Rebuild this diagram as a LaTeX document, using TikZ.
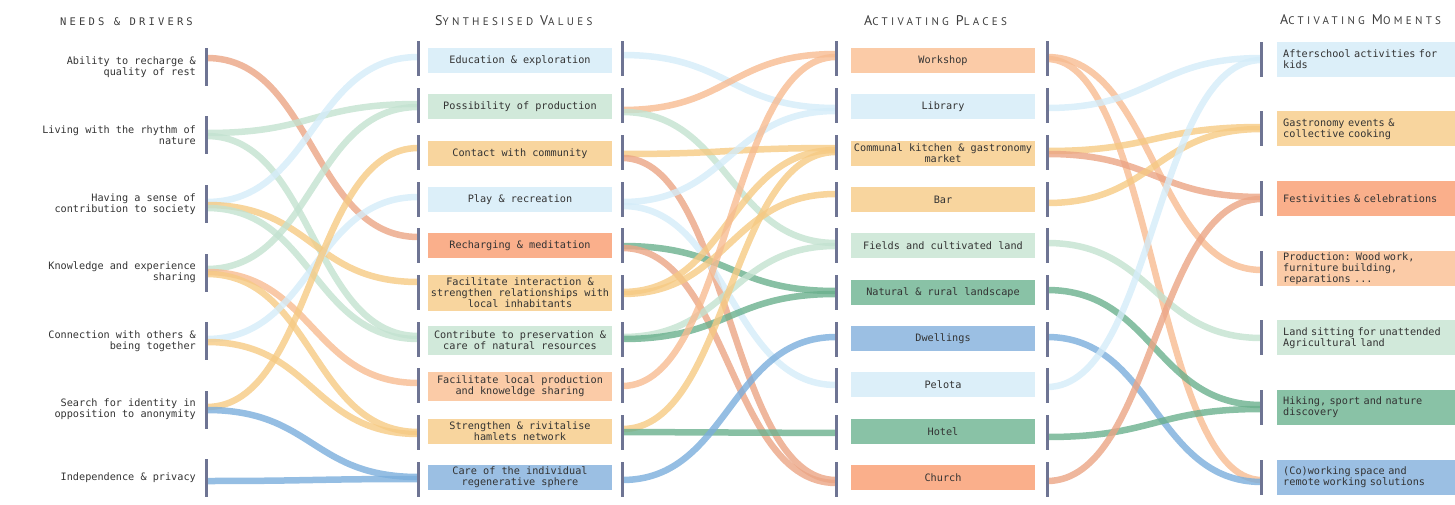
\documentclass[tikz,border=0pt]{standalone}
\usepackage{fontspec}
\newfontfamily\bodyf{DejaVu Sans Mono}
\newfontfamily\hdmono[LetterSpace=30]{DejaVu Sans Mono}
\newfontfamily\hdsans[LetterSpace=30]{PT Sans}
\newcommand\hdBig{\hdsans\fontsize{14}{14}\selectfont}
\newcommand\hdSml{\hdsans\fontsize{11}{14}\selectfont}
\usetikzlibrary{calc}
\pgfdeclarelayer{background}
\pgfsetlayers{background,main}
\definecolor{barc}{HTML}{6E7493}
\definecolor{txt}{HTML}{333333}
\definecolor{hdc}{HTML}{3C3C3C}
% box colours
\definecolor{fLB}{HTML}{DCEFF9}
\definecolor{fLG}{HTML}{D1E9DA}
\definecolor{fOG}{HTML}{F8D59E}
\definecolor{fSA}{HTML}{FAAF8B}
\definecolor{fPE}{HTML}{FBCBA7}
\definecolor{fGR}{HTML}{89C2A6}
\definecolor{fBL}{HTML}{9BBFE3}
% link colours
\definecolor{kLB}{HTML}{D4ECF9}
\definecolor{kLG}{HTML}{C3E2D0}
\definecolor{kOG}{HTML}{F6CA83}
\definecolor{kSA}{HTML}{EBA585}
\definecolor{kPE}{HTML}{F7BB91}
\definecolor{kGR}{HTML}{6AB08D}
\definecolor{kBL}{HTML}{7BAEDC}
\newcommand\lk[5]{\draw[lnk,#1] (#2.center |- 0,#3) .. controls +(106.5,0) and +(-106.5,0) .. (#4.center |- 0,#5);}
\begin{document}
\begin{tikzpicture}[x=1pt,y=-1pt,
  barn/.style={fill=barc, inner sep=0pt, minimum width=3pt, minimum height=#1},
  lbl/.style={font=\bodyf\fontsize{10.2}{11}\selectfont, text=txt, align=right, inner sep=0pt, anchor=east},
  vbox/.style={font=\bodyf\fontsize{10.2}{11}\selectfont, text=txt, align=center, inner sep=0pt, minimum width=184pt, minimum height=#1},
  mbox/.style={font=\bodyf\fontsize{10.2}{11}\selectfont, text=txt, align=left, inner xsep=6pt, inner ysep=0pt, text width=166pt, minimum height=35pt},
  hdr/.style={text=hdc, inner sep=0pt, anchor=base west},
  lnk/.style={line width=6.5pt, draw opacity=0.8},
  lb/.style={draw=kLB}, lg/.style={draw=kLG}, og/.style={draw=kOG},
  sa/.style={draw=kSA}, pe/.style={draw=kPE}, gr/.style={draw=kGR}, bl/.style={draw=kBL}
]
\useasboundingbox (0,0) rectangle (1455,505);

% headers
\node[hdr] (h1) at (60,25.3) {\hdmono\fontsize{10.5}{12}\selectfont NEEDS \& DRIVERS};
\node[hdr] (h2) at (435,25.5) {{\hdBig S}{\hdSml YNTHESISED}\hspace{7pt}{\hdBig V}{\hdSml ALUES}};
\node[hdr] (h3) at (864,26) {{\hdBig A}{\hdSml CTIVATING}\hspace{7pt}{\hdBig P}{\hdSml LACES}};
\node[hdr] (h4) at (1280,25) {{\hdBig A}{\hdSml CTIVATING}\hspace{7pt}{\hdBig M}{\hdSml OMENTS}};

% bars
\foreach \i in {1,...,7} {
  \pgfmathsetmacro\yy{67+68.5*(\i-1)}
  \node[barn=38pt] (a\i) at (206.7,\yy) {};
  \pgfmathsetmacro\zz{59.2+69.67*(\i-1)}
  \node[barn=35pt] (d\i) at (1261.7,\zz) {};
}
\foreach \i in {1,...,10} {
  \pgfmathsetmacro\yy{59+46.7*(\i-1)}
  \node[barn=35pt] (bl\i) at (418.3,\yy) {};
  \node[barn=35pt] (br\i) at (622.3,\yy) {};
  \node[barn=35pt] (cl\i) at (836,\yy) {};
  \node[barn=35pt] (cr\i) at (1047,\yy) {};
}

% needs & drivers labels
\node[lbl] (t1) at (196,67) {Ability to recharge \&\\quality of rest};
\node[lbl] (t2) at (196,135.5) {Living with the rhythm of\\nature};
\node[lbl] (t3) at (196,204) {Having a sense of\\contribution to society};
\node[lbl] (t4) at (196,272.5) {Knowledge and experience\\sharing};
\node[lbl] (t5) at (196,341) {Connection with others \&\\being together};
\node[lbl] (t6) at (196,409.5) {Search for identity in\\opposition to anonymity};
\node[lbl] (t7) at (196,478) {Independence \& privacy};

% synthesised values
\node[vbox=25pt, fill=fLB] (v1) at (520,60.5) {Education \& exploration};
\node[vbox=25pt, fill=fLG] (v2) at (520,106.8) {Possibility of production};
\node[vbox=25pt, fill=fOG] (v3) at (520,153.2) {Contact with community};
\node[vbox=25pt, fill=fLB] (v4) at (520,199.5) {Play \& recreation};
\node[vbox=25pt, fill=fSA] (v5) at (520,245.8) {Recharging \& meditation};
\node[vbox=36pt, fill=fOG] (v6) at (520,293) {Facilitate interaction \&\\strengthen relationships with\\local inhabitants};
\node[vbox=29pt, fill=fLG] (v7) at (520,340.3) {Contribute to preservation \&\\care of natural resources};
\node[vbox=29pt, fill=fPE] (v8) at (520,386.3) {Facilitate local production\\and knoweldge sharing};
\node[vbox=25pt, fill=fOG] (v9) at (520,431.2) {Strengthen \& rivitalise\\hamlets network};
\node[vbox=25pt, fill=fBL] (v10) at (520,477.5) {Care of the individual\\regenerative sphere};

% activating places
\node[vbox=25pt, fill=fPE] (p1) at (943,60.5) {Workshop};
\node[vbox=25pt, fill=fLB] (p2) at (943,106.8) {Library};
\node[vbox=25pt, fill=fOG] (p3) at (943,153.2) {Communal kitchen \& gastronomy\\market};
\node[vbox=25pt, fill=fOG] (p4) at (943,199.5) {Bar};
\node[vbox=25pt, fill=fLG] (p5) at (943,245.8) {Fields and cultivated land};
\node[vbox=25pt, fill=fGR] (p6) at (943,292.2) {Natural \& rural landscape};
\node[vbox=25pt, fill=fBL] (p7) at (943,338.5) {Dwellings};
\node[vbox=25pt, fill=fLB] (p8) at (943,384.8) {Pelota};
\node[vbox=25pt, fill=fGR] (p9) at (943,431.2) {Hotel};
\node[vbox=25pt, fill=fSA] (p10) at (943,477.5) {Church};

% activating moments
\node[mbox, fill=fLB, anchor=west] (m1) at (1277,59.2) {Afterschool activities for\\kids};
\node[mbox, fill=fOG, anchor=west] (m2) at (1277,128.9) {Gastronomy events \&\\collective cooking};
\node[mbox, fill=fSA, anchor=west] (m3) at (1277,198.5) {Festivities \& celebrations};
\node[mbox, fill=fPE, anchor=west] (m4) at (1277,268.2) {Production: Wood work,\\furniture building,\\reparations ...};
\node[mbox, fill=fLG, anchor=west] (m5) at (1277,337.9) {Land sitting for unattended\\Agricultural land};
\node[mbox, fill=fGR, anchor=west] (m6) at (1277,407.5) {Hiking, sport and nature\\discovery};
\node[mbox, fill=fBL, anchor=west] (m7) at (1277,477.2) {(Co)working space and\\remote working solutions};

\begin{pgfonlayer}{background}
% needs -> values
\lk{sa}{a1}{58}{bl5}{237}
\lk{lg}{a2}{133}{bl2}{104}
\lk{lg}{a2}{136}{bl7}{336}
\lk{lb}{a3}{202}{bl1}{57}
\lk{og}{a3}{205}{bl6}{282}
\lk{lg}{a3}{208}{bl7}{339}
\lk{lg}{a4}{269}{bl2}{107}
\lk{pe}{a4}{272}{bl8}{383}
\lk{og}{a4}{274}{bl9}{432}
\lk{lb}{a5}{339}{bl4}{197}
\lk{og}{a5}{342}{bl9}{434}
\lk{og}{a6}{407}{bl3}{148}
\lk{bl}{a6}{410}{bl10}{477}
\lk{bl}{a7}{481}{bl10}{479}
% values -> places
\lk{lb}{br1}{55}{cl2}{108}
\lk{pe}{br2}{110}{cl1}{54}
\lk{lg}{br2}{112}{cl5}{243}
\lk{og}{br3}{154}{cl3}{148}
\lk{sa}{br3}{158}{cl10}{480}
\lk{lb}{br4}{202}{cl2}{111}
\lk{lb}{br4}{206}{cl8}{385}
\lk{gr}{br5}{246}{cl6}{291}
\lk{sa}{br5}{248}{cl10}{483}
\lk{og}{br6}{292}{cl3}{150}
\lk{og}{br6}{294}{cl4}{194}
\lk{lg}{br7}{337}{cl5}{246}
\lk{gr}{br7}{339}{cl6}{294}
\lk{pe}{br8}{386}{cl1}{57}
\lk{og}{br9}{429}{cl3}{152}
\lk{gr}{br9}{432}{cl9}{433}
\lk{bl}{br10}{480}{cl7}{337}
% places -> moments
\lk{pe}{cr1}{57}{d4}{270}
\lk{pe}{cr1}{59}{d7}{480}
\lk{lb}{cr2}{108}{d1}{58}
\lk{og}{cr3}{151}{d2}{127}
\lk{sa}{cr3}{154}{d3}{197}
\lk{og}{cr4}{203}{d2}{129}
\lk{lg}{cr5}{243}{d5}{338}
\lk{gr}{cr6}{290}{d6}{405}
\lk{bl}{cr7}{337}{d7}{482}
\lk{lb}{cr8}{387}{d1}{60}
\lk{gr}{cr9}{437}{d6}{409}
\lk{sa}{cr10}{481}{d3}{199}
\end{pgfonlayer}
\end{tikzpicture}
\end{document}
